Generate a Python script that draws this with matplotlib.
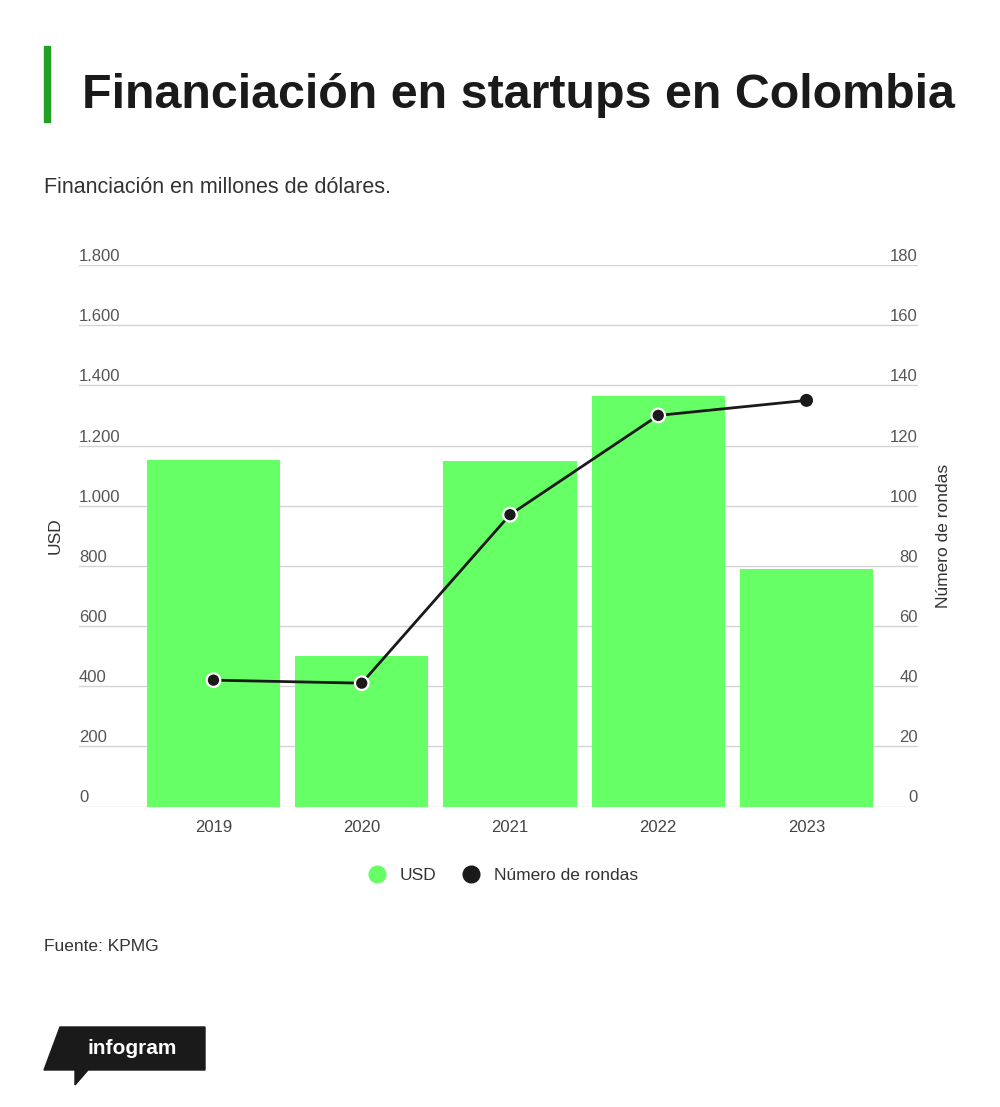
import numpy as np
import matplotlib
matplotlib.use("Agg")
import matplotlib.pyplot as plt
from matplotlib.lines import Line2D
from matplotlib.patches import Polygon, Rectangle
import matplotlib.transforms as mtransforms

plt.rcParams['font.family'] = ['Liberation Sans', 'DejaVu Sans']

# data
years = ['2019', '2020', '2021', '2022', '2023']
usd = [1153, 500, 1148, 1364, 789]
rondas = [42, 41, 97, 130, 135]
left_ticks = [0, 200, 400, 600, 800, 1000, 1200, 1400, 1600, 1800]
left_labels = ['0', '200', '400', '600', '800', '1.000', '1.200', '1.400', '1.600', '1.800']
right_ticks = [0, 20, 40, 60, 80, 100, 120, 140, 160, 180]

W, H = 1000, 1107
fig = plt.figure(figsize=(W / 100, H / 100), dpi=100)
fig.patch.set_facecolor('white')

def fx(px):
    return px / W

def fy(py):
    return 1 - py / H

# axes box: x 79..918, y 265..806.5
ax = fig.add_axes([fx(79), fy(806.5), fx(918) - fx(79), fy(265) - fy(806.5)])
ax2 = ax.twinx()

x = np.arange(len(years))
ax.bar(x, usd, width=0.9, color='#66ff66', zorder=2)
ax.set_xlim(-0.907, 4.752)
ax.set_ylim(0, 1800)
ax.set_yticks(left_ticks)
ax.yaxis.grid(True, color='#d4d4d4', lw=1)
ax.set_axisbelow(True)
ax.tick_params(axis='both', length=0)
ax.set_yticklabels([])
ax.set_xticks(x)
ax.set_xticklabels(years, fontsize=12, color='#444444')
ax.tick_params(axis='x', pad=10)
for s in ax.spines.values():
    s.set_visible(False)

off = mtransforms.ScaledTranslation(0, 4 / 100, fig.dpi_scale_trans)
tr = mtransforms.blended_transform_factory(ax.transAxes, ax.transData) + off
for v, lab in zip(left_ticks, left_labels):
    ax.text(0, v, lab, transform=tr, ha='left', va='baseline', fontsize=12, color='#555555')

ax2.set_ylim(0, 180)
ax2.set_yticks([])
for s in ax2.spines.values():
    s.set_visible(False)
tr2 = mtransforms.blended_transform_factory(ax2.transAxes, ax2.transData) + off
for v in right_ticks:
    ax2.text(1, v, str(v), transform=tr2, ha='right', va='baseline', fontsize=12, color='#555555')

ax2.plot(x, rondas, color='#1a1a1a', lw=2, zorder=3)
edges = ['white', 'white', 'white', 'white', '#1a1a1a']
sizes = [95, 95, 95, 95, 60]
ax2.scatter(x, rondas, s=sizes, color='#1a1a1a', edgecolors=edges, linewidths=1.6, zorder=4)

fig.text(fx(55), fy(536), 'USD', rotation=90, ha='center', va='center', fontsize=12.5, color='#333333')
fig.text(fx(943), fy(536), 'Número de rondas', rotation=90, ha='center', va='center',
         fontsize=12.5, color='#333333')

handles = [Line2D([], [], marker='o', ls='', markersize=12, color='#66ff66'),
           Line2D([], [], marker='o', ls='', markersize=12, color='#1a1a1a')]
fig.legend(handles, ['USD', 'Número de rondas'], loc='center', bbox_to_anchor=(fx(499), fy(875)),
           ncol=2, frameon=False, fontsize=12.5, handletextpad=0.3, columnspacing=1.0,
           labelcolor='#333333')

# title, scaled to fit its width
title = fig.text(fx(82), fy(108), 'Financiación en startups en Colombia', ha='left', va='baseline',
                 fontsize=40, fontweight='bold', color='#1a1a1a')
fig.canvas.draw()
w = title.get_window_extent().width
title.set_fontsize(40 * 873 / w)

fig.patches.append(Rectangle((fx(44), fy(122)), fx(6), fy(46) - fy(122), transform=fig.transFigure,
                             color='#22a022', figure=fig))

fig.text(fx(44), fy(193), 'Financiación en millones de dólares.', ha='left', va='baseline',
         fontsize=15.5, color='#333333')
fig.text(fx(44), fy(951), 'Fuente: KPMG', ha='left', va='baseline', fontsize=12.5, color='#333333')

# infogram badge
pts = [(60, 1027), (205, 1027), (205, 1070), (88, 1070), (75, 1085), (75, 1070), (44, 1070)]
fig.patches.append(Polygon([(fx(a), fy(b)) for a, b in pts], closed=True, transform=fig.transFigure,
                           color='#1a1a1a', figure=fig))
fig.text(fx(132), fy(1048), 'infogram', ha='center', va='center', fontsize=15, fontweight='bold',
         color='white')

fig.savefig('out.png', dpi=100)
